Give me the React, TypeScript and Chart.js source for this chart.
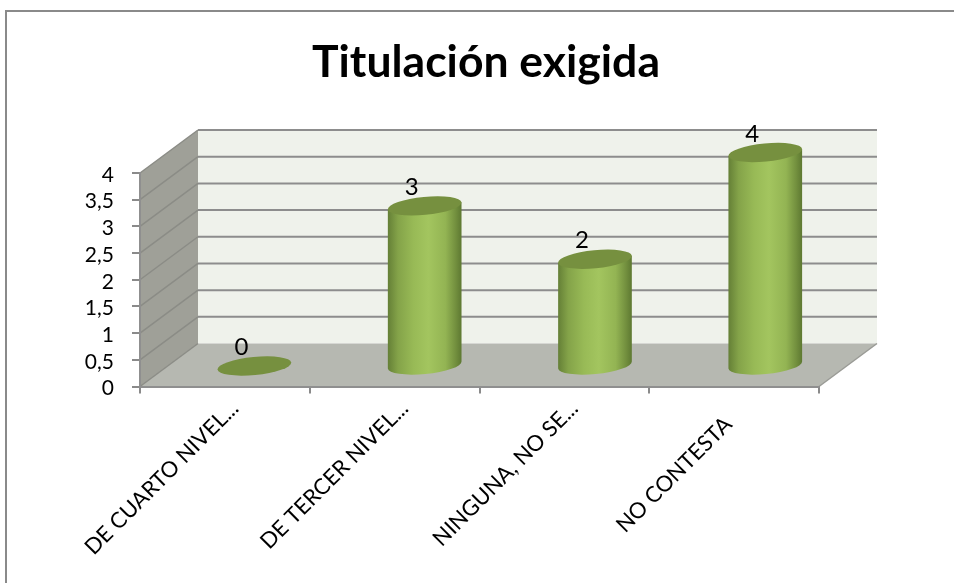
import React, { useEffect, useRef } from "react";
import { Chart, registerables } from "chart.js";

Chart.register(...registerables);

const categories = ["DE CUARTO NIVEL...", "DE TERCER NIVEL...", "NINGUNA, NO SE...", "NO CONTESTA    "];
const values = [0, 3, 2, 4];
const chartTitle = "Titulación exigida";
const FONT = "Lato, 'Open Sans', sans-serif";

const WALL_DX = 58;
const WALL_DY = -43;
const BAR_DX = 29.5;
const BAR_DY = -20.5;
const BAR_SPREAD = 0.55;
const TILT = (-5.5 * Math.PI) / 180;
const GRID = "#8d8d8d";

const wallsPlugin = {
  id: "walls",
  beforeDraw(chart: any) {
    const { ctx, chartArea: a, scales } = chart;
    const y = scales.y;
    ctx.save();
    // frame
    ctx.strokeStyle = "#8a8a8a";
    ctx.lineWidth = 2;
    ctx.beginPath();
    ctx.moveTo(6, chart.height);
    ctx.lineTo(6, 11);
    ctx.lineTo(chart.width, 11);
    ctx.stroke();
    // back wall
    ctx.fillStyle = "#eff2eb";
    ctx.fillRect(a.left + WALL_DX, a.top + WALL_DY, a.right - a.left, a.bottom - a.top);
    // side wall
    ctx.fillStyle = "#9fa098";
    ctx.beginPath();
    ctx.moveTo(a.left, a.top);
    ctx.lineTo(a.left + WALL_DX, a.top + WALL_DY);
    ctx.lineTo(a.left + WALL_DX, a.bottom + WALL_DY);
    ctx.lineTo(a.left, a.bottom);
    ctx.closePath();
    ctx.fill();
    // floor
    ctx.fillStyle = "#b6b8b1";
    ctx.beginPath();
    ctx.moveTo(a.left, a.bottom);
    ctx.lineTo(a.right, a.bottom);
    ctx.lineTo(a.right + WALL_DX, a.bottom + WALL_DY);
    ctx.lineTo(a.left + WALL_DX, a.bottom + WALL_DY);
    ctx.closePath();
    ctx.fill();
    ctx.strokeStyle = "#9a9b96";
    ctx.lineWidth = 1.5;
    ctx.beginPath();
    ctx.moveTo(a.right, a.bottom);
    ctx.lineTo(a.right + WALL_DX, a.bottom + WALL_DY);
    ctx.stroke();
    // grid lines on the walls
    y.ticks.forEach((t: any) => {
      const py = y.getPixelForValue(t.value);
      if (t.value > 0) {
        ctx.strokeStyle = GRID;
        ctx.lineWidth = 2;
        ctx.beginPath();
        ctx.moveTo(a.left + WALL_DX, py + WALL_DY);
        ctx.lineTo(a.right + WALL_DX, py + WALL_DY);
        ctx.stroke();
      }
      ctx.strokeStyle = "#8b8c86";
      ctx.lineWidth = 1.5;
      ctx.beginPath();
      ctx.moveTo(a.left, py);
      ctx.lineTo(a.left + WALL_DX, py + WALL_DY);
      ctx.stroke();
    });
    ctx.restore();
  },
};

const cylinderPlugin = {
  id: "cylinders",
  beforeDatasetDraw(chart: any, args: any) {
    const { ctx } = chart;
    const meta = chart.getDatasetMeta(args.index);
    const data = chart.data.datasets[args.index].data;
    meta.data.forEach((bar: any, i: number) => {
      const cx = bar.x + BAR_DX + i * BAR_SPREAD;
      const top = bar.y + BAR_DY;
      const base = bar.base + BAR_DY;
      const rx = bar.width / 2;
      const ry = 9;
      const ex = rx * Math.cos(TILT);
      const ey = rx * Math.sin(TILT);
      ctx.save();
      if (data[i] > 0) {
        const g = ctx.createLinearGradient(cx - rx, 0, cx + rx, 0);
        g.addColorStop(0, "#647f36");
        g.addColorStop(0.14, "#84a349");
        g.addColorStop(0.35, "#98ba56");
        g.addColorStop(0.55, "#a3c55f");
        g.addColorStop(0.78, "#93b453");
        g.addColorStop(0.92, "#728f3e");
        g.addColorStop(1, "#5d7831");
        ctx.fillStyle = g;
        ctx.beginPath();
        ctx.moveTo(cx + ex, top + ey);
        ctx.lineTo(cx + ex, base + ey);
        ctx.ellipse(cx, base, rx, ry, TILT, 0, Math.PI, false);
        ctx.lineTo(cx - ex, top - ey);
        ctx.closePath();
        ctx.fill();
      }
      ctx.fillStyle = "#76903f";
      ctx.beginPath();
      ctx.ellipse(cx, top, rx, ry, TILT, 0, Math.PI * 2);
      ctx.fill();
      // value label
      ctx.fillStyle = "#000";
      ctx.font = `24px ${FONT}`;
      ctx.textAlign = "center";
      ctx.textBaseline = "middle";
      ctx.fillText(String(data[i]), cx - 13, top - 18.5);
      ctx.restore();
    });
    return false;
  },
};

export default function App() {
  const ref = useRef<HTMLCanvasElement | null>(null);
  useEffect(() => {
    const chart = new Chart(ref.current as HTMLCanvasElement, {
      type: "bar",
      data: {
        labels: categories,
        datasets: [{ label: chartTitle, data: values, backgroundColor: "#97ba55", categoryPercentage: 1, barPercentage: 0.436 }],
      },
      plugins: [wallsPlugin, cylinderPlugin],
      options: {
        animation: false,
        responsive: false,
        layout: { padding: { left: 18, right: 0, top: 0, bottom: 0 } },
        plugins: {
          legend: { display: false },
          tooltip: { enabled: false },
          title: {
            display: true,
            text: chartTitle,
            color: "#000",
            font: { family: FONT, size: 44.5, weight: "bold", lineHeight: 1.2 },
            padding: { top: 36, bottom: 83.6 },
          },
        },
        scales: {
          x: {
            grid: { drawOnChartArea: false, color: "#8a8a8a", lineWidth: 2, tickLength: 7 },
            border: { color: "#8f8f8f", width: 2 },
            afterFit: (s: any) => { s.height = 196.5; },
            ticks: {
              color: "#000",
              font: { family: FONT, size: 22 },
              minRotation: 45,
              maxRotation: 45,
              autoSkip: false,
              labelOffset: 10,
              padding: 2,
            },
          },
          y: {
            min: 0,
            max: 4,
            grid: { drawOnChartArea: false, color: "#8a8a8a", lineWidth: 2, tickLength: 8 },
            border: { color: "#8f8f8f", width: 2 },
            afterFit: (s: any) => { s.width = 122; },
            ticks: {
              stepSize: 0.5,
              autoSkip: false,
              color: "#000",
              padding: 18,
              labelOffset: 2,
              font: { family: FONT, size: 21 },
              callback: (v: any) => String(v).replace(".", ","),
            },
          },
          spacer: {
            position: "right",
            display: true,
            grid: { display: false },
            border: { display: false },
            ticks: { display: false },
            afterFit: (s: any) => { s.width = 135; },
          },
        },
      } as any,
    });
    return () => chart.destroy();
  }, []);
  return <canvas ref={ref} width={954} height={583} style={{ position: "fixed", left: 0, top: 0, display: "block" }} />;
}
